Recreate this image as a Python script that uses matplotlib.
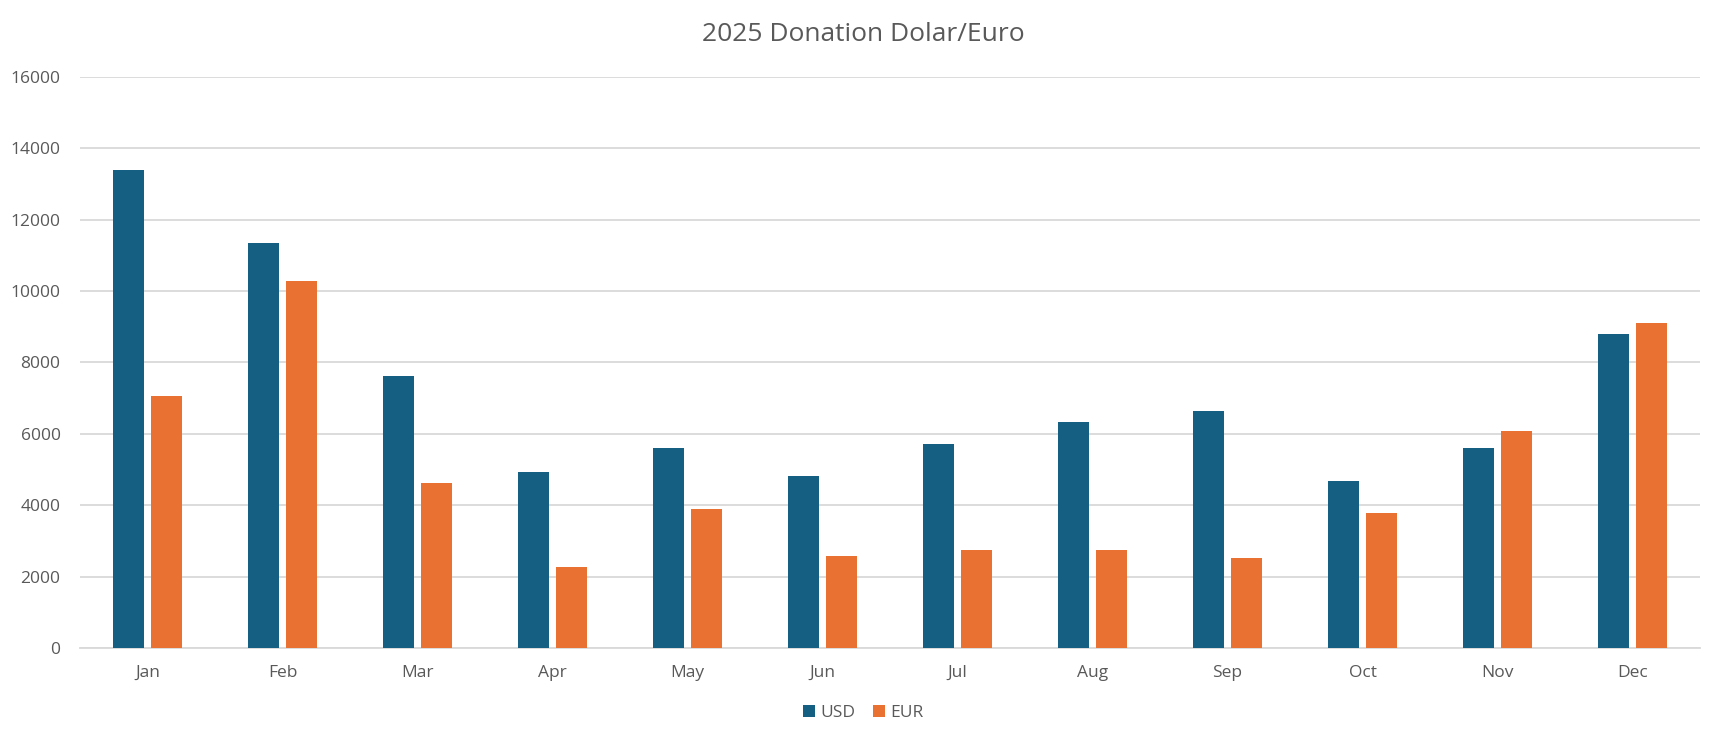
import matplotlib
matplotlib.use("Agg")
import matplotlib.pyplot as plt
import numpy as np

months = ["Jan", "Feb", "Mar", "Apr", "May", "Jun", "Jul", "Aug", "Sep", "Oct", "Nov", "Dec"]
usd = [13400, 11360, 7630, 4920, 5600, 4830, 5720, 6340, 6630, 4670, 5600, 8790]
eur = [7060, 10280, 4610, 2260, 3900, 2580, 2750, 2750, 2510, 3770, 6070, 9120]

plt.rcParams['font.family'] = ['Open Sans', 'DejaVu Sans']
txt = "#595959"

fig = plt.figure(figsize=(17.23, 7.44), dpi=100)
ax = fig.add_axes([80/1723, 1-648/744, 1620/1723, 571/744])

x = np.arange(len(months))
w = 0.226
off = 0.1425
ax.bar(x - off, usd, w, color="#156082", label="USD", zorder=3)
ax.bar(x + off, eur, w, color="#E97132", label="EUR", zorder=3)

ax.set_xlim(-0.5, len(months) - 0.5)
ax.set_ylim(0, 16000)
ax.set_yticks(range(0, 16001, 2000))
ax.set_xticks(x)
ax.set_xticklabels(months)
ax.yaxis.grid(True, color="#D9D9D9", linewidth=1.3, zorder=0)
for s in ["top", "right", "left"]:
    ax.spines[s].set_visible(False)
ax.spines["bottom"].set_color("#D9D9D9")
ax.spines["bottom"].set_linewidth(1.3)
ax.tick_params(axis="both", length=0, labelsize=12.5, colors=txt)
ax.tick_params(axis="x", pad=12)
ax.tick_params(axis="y", pad=14)

fig.text(0.501, 0.954, "2025 Donation Dolar/Euro", ha="center", va="center", fontsize=19, color=txt)

fig.legend(loc="center", bbox_to_anchor=(0.501, 0.042), ncol=2, frameon=False,
           fontsize=12.5, labelcolor=txt, handlelength=0.7, handleheight=0.7,
           handletextpad=0.3, columnspacing=1.0)

fig.savefig("out.png", dpi=100)
